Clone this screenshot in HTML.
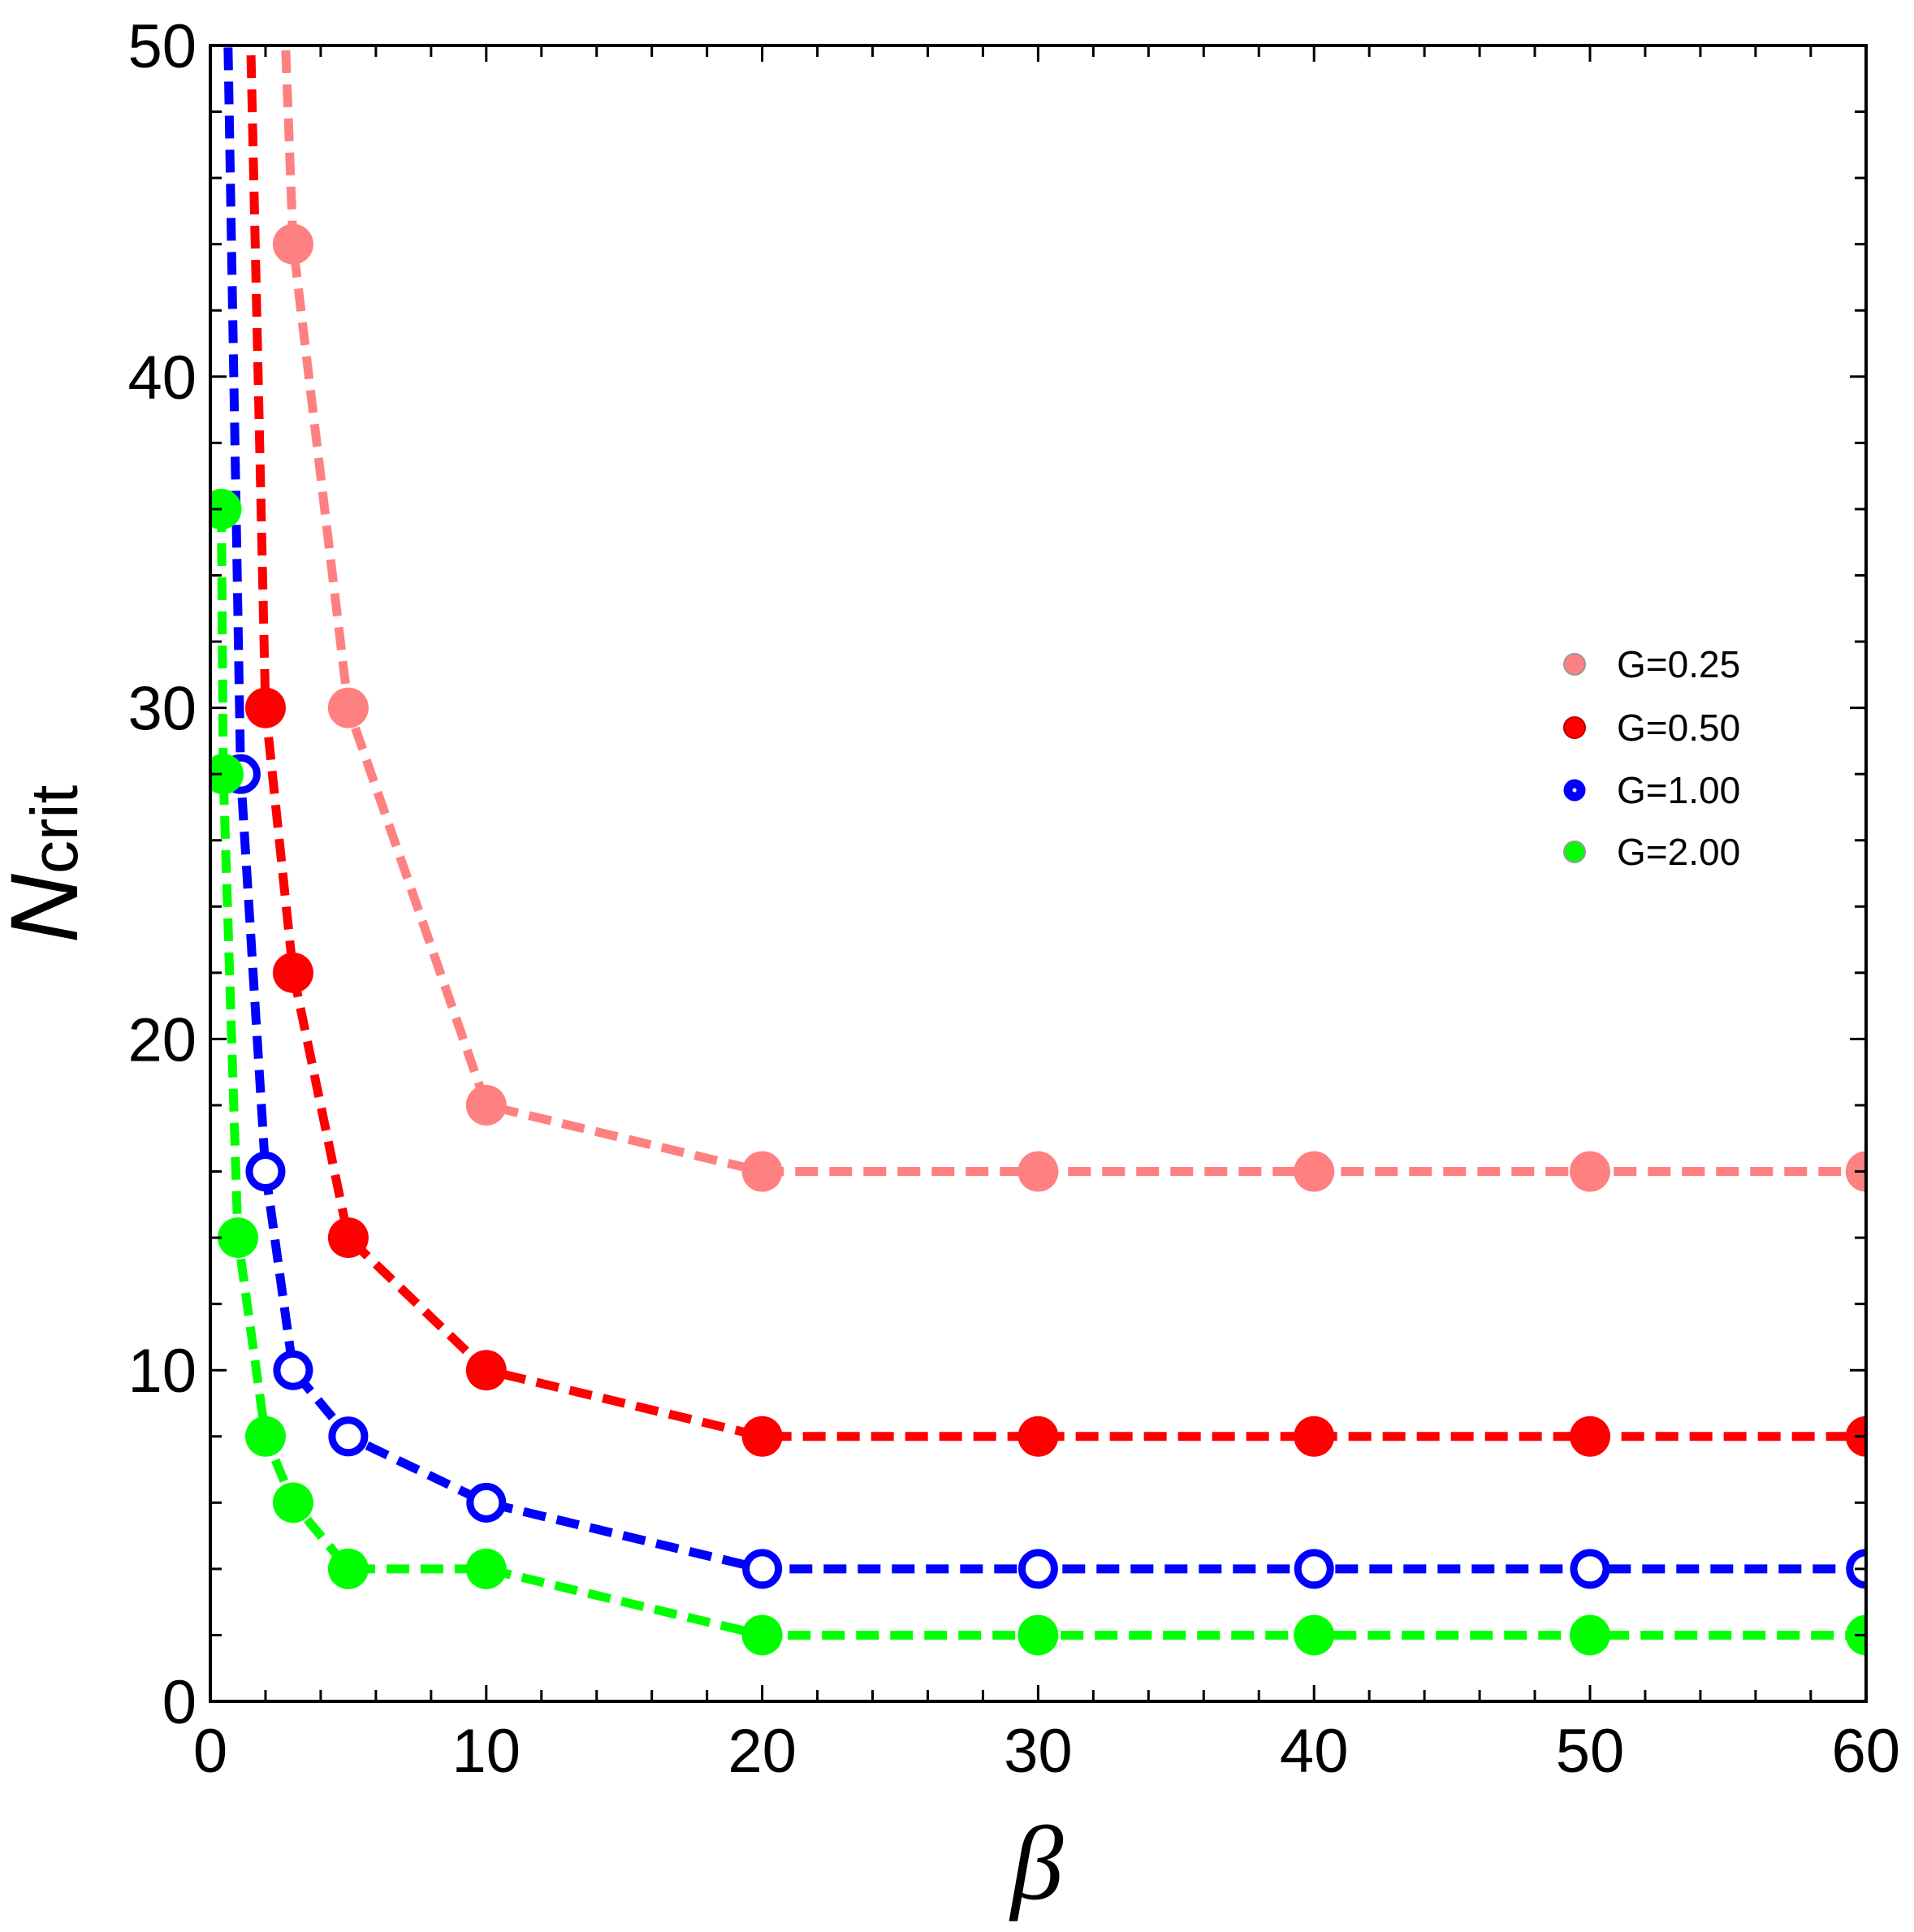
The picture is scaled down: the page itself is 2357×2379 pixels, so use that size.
<!DOCTYPE html>
<html><head><meta charset="utf-8"><style>html,body{margin:0;padding:0;background:#fff}svg{display:block}</style></head>
<body>
<svg id="s" width="2357" height="2379" viewBox="0 0 2357 2379" xmlns="http://www.w3.org/2000/svg" font-family="'Liberation Sans', sans-serif">
<defs><clipPath id="c"><rect x="259" y="56" width="2039" height="2039"/></clipPath></defs>
<g id="plot" clip-path="url(#c)"></g>
<g id="axes"></g>
<text x="1277" y="2338" font-family="'Liberation Serif', serif" font-style="italic" font-size="130" text-anchor="middle">β</text>
<text transform="translate(95,1064) rotate(-90)" text-anchor="middle" font-size="118"><tspan font-style="italic">N</tspan><tspan font-size="82">crit</tspan></text>
<g font-size="46">
<circle cx="1939" cy="818" r="13" fill="#ff8080" stroke="#999" stroke-width="2"/><text x="1991" y="834">G=0.25</text>
<circle cx="1939" cy="896" r="13" fill="#ff0000" stroke="#b00" stroke-width="2"/><text x="1991" y="912">G=0.50</text>
<circle cx="1939" cy="973" r="8" fill="#fff" stroke="#0000ff" stroke-width="11"/><text x="1991" y="989">G=1.00</text>
<circle cx="1939" cy="1049" r="13" fill="#00ff00" stroke="#999" stroke-width="2"/><text x="1991" y="1065">G=2.00</text>
</g>
</svg>
<script>
var X=function(b){return 259+b*33.98},Y=function(n){return 2095-n*40.78};
var NS="http://www.w3.org/2000/svg";
function el(p,t,a){var e=document.createElementNS(NS,t);for(var k in a)e.setAttribute(k,a[k]);p.appendChild(e);return e}
var plot=document.getElementById('plot'),ax=document.getElementById('axes');
var S=[
 {c:'#ff8080',open:false,d:[[2.5,55],[3,44],[5,30],[10,18],[20,16],[30,16],[40,16],[50,16],[60,16]]},
 {c:'#ff0000',open:false,d:[[1.2,60],[2,30],[3,22],[5,14],[10,10],[20,8],[30,8],[40,8],[50,8],[60,8]]},
 {c:'#0000ff',open:true,d:[[0.6,52],[1.1,28],[2,16],[3,10],[5,8],[10,6],[20,4],[30,4],[40,4],[50,4],[60,4]]},
 {c:'#00ff00',open:false,d:[[0.4,36],[0.47,28],[1,14],[2,8],[3,6],[5,4],[10,4],[20,2],[30,2],[40,2],[50,2],[60,2]]}
];
S.forEach(function(s){
 el(plot,'polyline',{points:s.d.map(function(p){return X(p[0])+','+Y(p[1])}).join(' '),fill:'none',stroke:s.c,'stroke-width':11,'stroke-dasharray':'28 14'});
});
S.forEach(function(s){
 s.d.forEach(function(p,i){ if(p[1]>50)return;
  if(s.open) el(plot,'circle',{cx:X(p[0]),cy:Y(p[1]),r:20,fill:'#fff',stroke:s.c,'stroke-width':9});
  else el(plot,'circle',{cx:X(p[0]),cy:Y(p[1]),r:25,fill:s.c});
 });
});
el(ax,'rect',{x:259,y:56,width:2039,height:2039,fill:'none',stroke:'#000','stroke-width':4});
for(var b=0;b<=60;b+=2){var maj=b%10==0,L=maj?20:14;
 el(ax,'line',{x1:X(b),x2:X(b),y1:2095,y2:2095-L,stroke:'#000','stroke-width':3});
 el(ax,'line',{x1:X(b),x2:X(b),y1:56,y2:56+L,stroke:'#000','stroke-width':3});
 if(maj){var t=el(ax,'text',{x:X(b),y:2182,'font-size':76,'text-anchor':'middle'});t.textContent=b;}
}
for(var n=0;n<=50;n+=2){var maj=n%10==0,L=maj?20:14;
 el(ax,'line',{x1:259,x2:259+L,y1:Y(n),y2:Y(n),stroke:'#000','stroke-width':3});
 el(ax,'line',{x1:2298,x2:2298-L,y1:Y(n),y2:Y(n),stroke:'#000','stroke-width':3});
 if(n%10==0){var t=el(ax,'text',{x:242,y:Y(n)+27,'font-size':76,'text-anchor':'end'});t.textContent=n;}
}
</script>
</body></html>
